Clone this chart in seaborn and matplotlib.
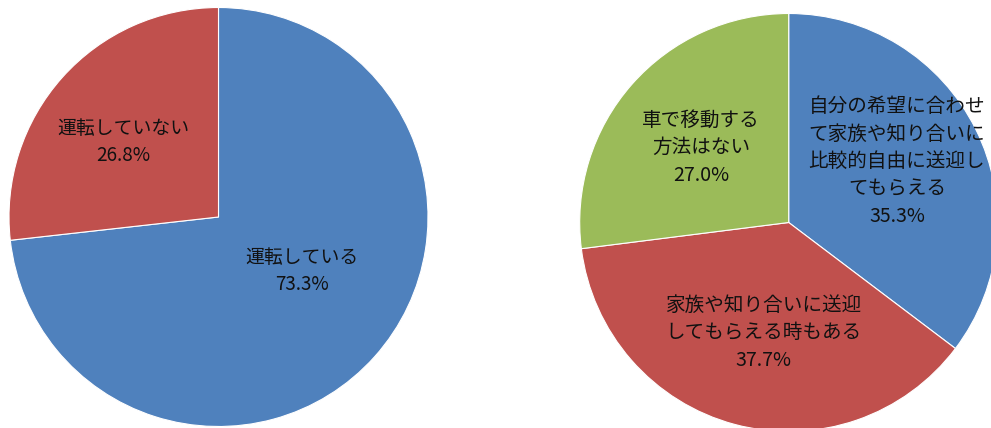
import matplotlib
matplotlib.use("Agg")
import matplotlib.pyplot as plt
import seaborn as sns

sns.set_theme(style="white")
plt.rcParams['font.family'] = ['Noto Sans CJK JP', 'DejaVu Sans']

W, H = 991, 428

# Left pie: whether the respondent drives
drive_labels = ["運転している", "運転していない"]
drive_values = [73.3, 26.8]

# Right pie: how non-drivers get around by car
ride_labels = [
    "自分の希望に合わせ\nて家族や知り合いに\n比較的自由に送迎し\nてもらえる",
    "家族や知り合いに送迎\nしてもらえる時もある",
    "車で移動する\n方法はない",
]
ride_values = [35.3, 37.7, 27.0]

palette = sns.color_palette(["#4F81BD", "#C0504D", "#9BBB59"])

# Layout in pixel units (y measured from the top)
left_pie = dict(center=(218.5, 217.0), radius=209.5, font=13.6)
right_pie = dict(center=(788.7, 222.5), radius=209.0, font=14.1)
left_label_pos = [(302, 271), (123, 142)]
right_label_pos = [(897, 161.5), (763, 333), (701, 147.5)]
line_pitch = 27.5

fig = plt.figure(figsize=(W / 100, H / 100), dpi=100)
ax = fig.add_axes([0, 0, 1, 1])


def draw_pie(values, labels, layout, label_pos):
    cx, cy = layout["center"]
    ax.pie(
        values,
        colors=palette[: len(values)],
        startangle=90,
        counterclock=False,
        center=(cx, H - cy),
        radius=layout["radius"],
        wedgeprops=dict(edgecolor="white", linewidth=0.8),
    )
    for label, val, (x, y) in zip(labels, values, label_pos):
        lines = label.split("\n") + [f"{val:.1f}%"]
        top = y - line_pitch * (len(lines) - 1) / 2
        for i, line in enumerate(lines):
            ax.text(x, H - (top + i * line_pitch), line, ha="center", va="center",
                    fontsize=layout["font"], color="#111111")


draw_pie(drive_values, drive_labels, left_pie, left_label_pos)
draw_pie(ride_values, ride_labels, right_pie, right_label_pos)

ax.set_xlim(0, W)
ax.set_ylim(0, H)
ax.set_aspect("equal")
ax.axis("off")

fig.savefig("out.png", dpi=100)
